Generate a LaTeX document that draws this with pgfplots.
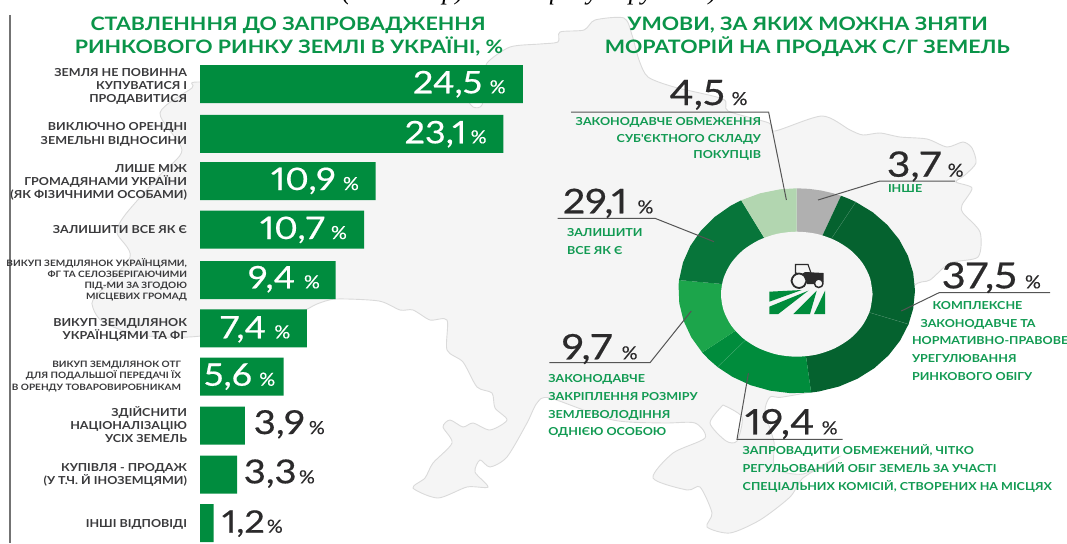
\documentclass[border=0pt]{standalone}
\usepackage{fontspec}
\usepackage{pgfplots}
\pgfplotsset{compat=1.18}
\setmainfont{Lato}
\newfontfamily\numf[FakeStretch=1.16,FakeBold=0.5,Numbers=Proportional]{Lato}
\newfontfamily\pctf[FakeStretch=1.1,FakeBold=0.4]{Lato}
\newfontfamily\capf[FakeStretch=1.14]{Lato}
\newfontfamily\ttlf[FakeStretch=1.16]{Lato}
\newfontfamily\topf{Liberation Serif}
\definecolor{barg}{HTML}{008C3E}
\definecolor{titleg}{HTML}{0A9449}
\definecolor{labg}{HTML}{119A52}
\definecolor{ink}{HTML}{2B2A2B}
\definecolor{catc}{HTML}{3A3A3C}
\definecolor{mapf}{HTML}{F5F5F5}
\definecolor{mapl}{HTML}{DADADA}
\definecolor{dk}{HTML}{05622F}
\definecolor{dk2}{HTML}{07753A}
\definecolor{lt}{HTML}{1CA54B}
\definecolor{md}{HTML}{008C3C}
\definecolor{gy}{HTML}{B0B0B0}
\definecolor{pale}{HTML}{B2D6B0}
\definecolor{lead}{HTML}{555555}
\tikzset{every node/.style={inner sep=0pt,outer sep=0pt}}
% x, y (baseline, px from top), text
\newcommand{\catr}[3]{\node[anchor=base east,text=catc,font=\capf\bfseries\fontsize{11}{11}\selectfont] at (axis cs:#1,#2) {#3};}
\newcommand{\cats}[3]{\node[anchor=base east,text=catc,font=\capf\bfseries\fontsize{8.8}{9}\selectfont] at (axis cs:#1,#2) {#3};}
\newcommand{\labl}[3]{\node[anchor=base west,text=labg,font=\capf\bfseries\fontsize{11}{11}\selectfont] at (axis cs:#1,#2) {#3};}
\newcommand{\labr}[3]{\node[anchor=base east,text=labg,font=\capf\bfseries\fontsize{11}{11}\selectfont] at (axis cs:#1,#2) {#3};}
\newcommand{\ttl}[3]{\node[anchor=base,text=titleg,font=\ttlf\bfseries\fontsize{18.5}{19}\selectfont] at (axis cs:#1,#2) {#3};}
% size, number x, baseline, text, percent x, colour
\newcommand{\val}[6]{\node[anchor=base west,text=#6,font=\numf\fontsize{#1}{#1}\selectfont] at (axis cs:#2,#3) {#4};
 \node[anchor=base west,text=#6,font=\pctf\fontsize{18}{18}\selectfont] at (axis cs:#5,#3) {\%};}
\begin{document}
\begin{tikzpicture}
\useasboundingbox (0pt,0pt) rectangle (1067pt,543pt);
% ---------- background map
\begin{axis}[scale only axis,width=1067pt,height=543pt,at={(0pt,0pt)},anchor=south west,
  xmin=0,xmax=1067,ymin=0,ymax=543,y dir=reverse,hide axis,clip=false]
\addplot[smooth,tension=0.45,fill=mapf,draw=mapl,line width=0.9pt] coordinates {
(300,85)(440,90)(462,95)(473,107)(482,105)(485,80)(487,63)(510,47)(540,44)(558,42)(560,32)(584,30)(595,20)(624,18)(632,35)(639,60)(648,77)(674,87)(723,99)(728,111)(769,123)(775,131)(822,116)(850,130)(863,135)(880,133)(900,137)(927,139)(947,147)(963,142)(972,148)(976,163)(965,175)(956,182)(972,188)(962,205)(963,213)(980,232)(978,257)(950,263)(930,280)(913,287)(880,340)(830,385)(783,397)(770,397)(765,412)(774,442)(775,468)(803,474)(838,457)(830,462)(803,478)(790,497)(760,520)(730,533)(707,527)(712,513)(700,487)(687,490)(653,478)(673,453)(705,438)(695,423)(663,423)(613,420)(550,398)(537,403)(527,423)(507,457)(490,467)(480,460)(475,472)(488,487)(467,487)(438,498)(413,488)(425,478)(433,463)(452,443)(443,427)(450,420)(463,427)(473,423)(490,430)(507,420)(495,408)(492,393)(477,387)(463,362)(447,350)(447,320)(430,320)(413,310)(400,310)(379,301)(336,299)(317,304)(300,312)(240,330)(189,337)(138,335)(103,322)(93,308)(95,297)(130,257)(117,233)(125,215)(160,175)(182,150)(160,113)(192,88)(198,82)(300,85)};
\addplot[smooth,tension=0.45,fill=white,draw=mapl,line width=0.9pt] coordinates {
(723,405)(742,417)(737,441)(726,441)(710,423)(723,405)};
\end{axis}
% ---------- bars: the reference does not draw its bars to scale, so the lengths are those read from the picture (px)
\begin{axis}[scale only axis,width=500pt,height=543pt,at={(200pt,0pt)},anchor=south west,
  xmin=0,xmax=500,ymin=0,ymax=543,y dir=reverse,hide axis,clip=false,xbar,bar width=38pt,bar shift=0pt]
\addplot[fill=barg,draw=none] coordinates {
(322.9,84.2)(303.4,133.8)(175.7,181.2)(164,229.7)(135.7,280)(106.8,328.3)(83.7,376.5)(44.8,425.5)(37,474.5)(13.5,523)};
\end{axis}
% ---------- donut: boundaries; it is not to scale either
\begin{axis}[scale only axis,width=236.6pt,height=205pt,at={(796.7pt,252.2pt)},anchor=center,
  xmin=-1,xmax=1,ymin=-1,ymax=1,hide axis,clip=false]
\addplot[data cs=polar,fill=gy,draw=none] coordinates {(90,0)(90,1)(84,1)(78,1)(72,1)(68,1)(68,0)};
\addplot[data cs=polar,fill=dk,draw=none] coordinates {(68,0)(68,1)(64,1)(60,1)(60,0)};
\addplot[data cs=polar,fill=dk,draw=none] coordinates {(60,0)(60,1)(50,1)(40,1)(30,1)(20,1)(10,1)(0,1)(-10,1)(-19,1)(-19,0)};
\addplot[data cs=polar,fill=dk,draw=none] coordinates {(-19,0)(-19,1)(-29,1)(-39,1)(-49,1)(-59,1)(-69,1)(-79,1)(-83,1)(-83,0)};
\addplot[data cs=polar,fill=md,draw=none] coordinates {(-83,0)(-83,1)(-93,1)(-103,1)(-113,1)(-123,1)(-132,1)(-132,0)};
\addplot[data cs=polar,fill=md,draw=none] coordinates {(-132,0)(-132,1)(-138,1)(-143,1)(-143,0)};
\addplot[data cs=polar,fill=lt,draw=none] coordinates {(-143,0)(-143,1)(-153,1)(-163,1)(-173,1)(-183,1)(-186,1)(-186,0)};
\addplot[data cs=polar,fill=dk2,draw=none] coordinates {(-186,0)(-186,1)(-196,1)(-206,1)(-216,1)(-226,1)(-236,1)(-242,1)(-242,0)};
\addplot[data cs=polar,fill=pale,draw=none] coordinates {(-242,0)(-242,1)(-252,1)(-262,1)(-270,1)(-270,0)};
\addplot[data cs=polar,draw=white!25!dk,line width=0.3pt] coordinates {(60,0.6)(60,1)};
\addplot[data cs=polar,draw=white!25!dk,line width=0.3pt] coordinates {(-19,0.6)(-19,1)};
\addplot[data cs=polar,draw=white!25!md,line width=0.3pt] coordinates {(-132,0.6)(-132,1)};
\end{axis}
% ---------- overlay: hole, icon, leaders, text
\begin{axis}[scale only axis,width=1067pt,height=543pt,at={(0pt,0pt)},anchor=south west,
  xmin=0,xmax=1067,ymin=0,ymax=543,y dir=reverse,hide axis,clip=false]
\addplot[fill=mapf,draw=none,smooth] coordinates {(872.6,294.2)(870,310.4)(862.4,325.5)(850.4,338.4)(834.7,348.3)(816.4,354.6)(796.8,356.7)(777.2,354.6)(758.9,348.3)(743.2,338.4)(731.2,325.5)(723.6,310.4)(721,294.2)(723.6,278)(731.2,262.9)(743.2,250)(758.9,240.1)(777.2,233.8)(796.8,231.7)(816.4,233.8)(834.7,240.1)(850.4,250)(862.4,262.9)(870,278)(872.6,294.2)};
% left rule
\addplot[draw=black!55,line width=2pt] coordinates {(10,15)(10,543)};
% field icon
\addplot[fill=md,draw=none] coordinates {(769.3,291.7)(801.7,290)(769.3,301.7)} --cycle;
\addplot[fill=md,draw=none] coordinates {(769.3,306.7)(808.3,290.7)(778.3,314)(769.3,314)} --cycle;
\addplot[fill=md,draw=none] coordinates {(793.3,314)(816.7,290.7)(810,314)} --cycle;
\addplot[fill=md,draw=none] coordinates {(825,290.7)(825,314)(814,314)} --cycle;
% tractor
\addplot[fill=ink,draw=none] coordinates {(795.5,264)(795.5,274)(802,274)(805,272)(823.5,273)(823.5,282)(815,284)(807,284)(805,276)(795,272)} --cycle;
\addplot[draw=ink,line width=1.1pt] coordinates {(795.5,275)(795.5,264.5)(808,264.5)(811,273)};
\addplot[fill=mapf,draw=ink,line width=1.8pt,smooth] coordinates {(806.5,280.7)(804,286)(799,288)(794,286)(791.5,280.7)(794,275.5)(799,273.5)(804,275.5)(806.5,280.7)};
\addplot[fill=mapf,draw=ink,line width=1.5pt,smooth] coordinates {(823,283.3)(821.7,286.3)(818.7,287.5)(815.7,286.3)(814.4,283.3)(815.7,280.3)(818.7,279)(821.7,280.3)(823,283.3)};
% leaders
\addplot[draw=lead,line width=1pt] coordinates {(571,112)(768.6,112)(786.4,200)};
\addplot[draw=lead,line width=1pt] coordinates {(818,200)(880,181)(955,181)};
\addplot[draw=lead,line width=1pt] coordinates {(557.5,218.3)(655,218.3)(714,241.7)};
\addplot[draw=lead,line width=1pt] coordinates {(901.3,311)(939,292.7)(1050,292.7)};
\addplot[draw=lead,line width=1pt] coordinates {(549.4,362.7)(650,362.7)(691.3,311)};
\addplot[draw=lead,line width=1pt] coordinates {(748.4,373.3)(737,439.3)(842.5,439.3)};
% clipped line of the page above
\node[anchor=base west,text=black,font=\topf\itshape\fontsize{26}{26}\selectfont] at (axis cs:342,0) {(Панельар)};
\node[anchor=base west,text=black,font=\topf\itshape\fontsize{26}{26}\selectfont] at (axis cs:527,0) {з фокус-групами)};
% titles
\ttl{288}{30.7}{СТАВЛЕНННЯ ДО ЗАПРОВАДЖЕННЯ}
\ttl{289}{54}{РИНКОВОГО РИНКУ ЗЕМЛІ В УКРАЇНІ, \%}
\ttl{807.7}{30.7}{УМОВИ, ЗА ЯКИХ МОЖНА ЗНЯТИ}
\ttl{807.3}{54}{МОРАТОРІЙ НА ПРОДАЖ С/Г ЗЕМЕЛЬ}
% category labels
\catr{187}{76}{ЗЕМЛЯ НЕ ПОВИННА}
\catr{187}{89}{КУПУВАТИСЯ І}
\catr{187}{102}{ПРОДАВИТИСЯ}
\catr{187}{130.7}{ВИКЛЮЧНО ОРЕНДНІ}
\catr{187}{144}{ЗЕМЕЛЬНІ ВІДНОСИНИ}
\catr{187}{172}{ЛИШЕ МІЖ}
\catr{187}{185}{ГРОМАДЯНАМИ УКРАЇНИ}
\catr{187}{198}{(ЯК ФІЗИЧНИМИ ОСОБАМИ)}
\catr{187}{233.5}{ЗАЛИШИТИ ВСЕ ЯК Є}
\cats{187}{266.5}{ВИКУП ЗЕМДІЛЯНОК УКРАЇНЦЯМИ,}
\cats{187}{277.3}{ФГ ТА СЕЛОЗБЕРІГАЮЧИМИ}
\cats{187}{288.3}{ПІД-МИ ЗА ЗГОДОЮ}
\cats{187}{299.5}{МІСЦЕВИХ ГРОМАД}
\catr{187}{326}{ВИКУП ЗЕМДІЛЯНОК}
\catr{187}{339}{УКРАЇНЦЯМИ ТА ФГ}
\cats{181}{367.5}{ВИКУП ЗЕМДІЛЯНОК ОТГ}
\cats{181}{378.5}{ДЛЯ ПОДАЛЬШОЇ ПЕРЕДАЧІ ЇХ}
\cats{181}{390}{В ОРЕНДУ ТОВАРОВИРОБНИКАМ}
\catr{187}{416}{ЗДІЙСНИТИ}
\catr{187}{429}{НАЦІОНАЛІЗАЦІЮ}
\catr{187}{442}{УСІХ ЗЕМЕЛЬ}
\catr{187}{471}{КУПІВЛЯ - ПРОДАЖ}
\catr{187}{484}{(У Т.Ч. Й ІНОЗЕМЦЯМИ)}
\catr{187}{527.5}{ІНШІ ВІДПОВІДІ}
% bar values
\val{31}{413}{93.3}{24,5}{489.7}{white}
\val{31}{404.6}{143.3}{23,1}{470.7}{white}
\val{31}{271}{190}{10,9}{343}{white}
\val{31}{260}{239}{10,7}{331}{white}
\val{31}{248}{288.3}{9,4}{304}{white}
\val{31}{220}{338.3}{7,4}{274.4}{white}
\val{31}{204}{385.7}{5,6}{259.3}{white}
\val{33}{253.8}{434}{3,9}{308.9}{ink}
\val{33}{243.8}{483.3}{3,3}{299}{ink}
\val{31}{222}{532.7}{1,2}{266.9}{ink}
% donut values
\val{35}{669.4}{105}{4,5}{731.6}{ink}
\val{35}{887}{176.7}{3,7}{947.7}{ink}
\val{34}{562.9}{213.3}{29,1}{637.5}{ink}
\val{36}{941.7}{288.3}{37,5}{1025}{ink}
\val{35}{561.7}{359.3}{9,7}{621.7}{ink}
\val{35}{745}{434.3}{19,4}{821.7}{ink}
% donut labels
\labr{761}{125}{ЗАКОНОДАВЧЕ ОБМЕЖЕННЯ}
\labr{761}{142}{СУБ'ЄКТНОГО СКЛАДУ}
\labr{761}{158.5}{ПОКУПЦІВ}
\labl{888}{192.5}{ІНШЕ}
\labl{567}{236.5}{ЗАЛИШИТИ}
\labl{567}{254}{ВСЕ ЯК Є}
\labl{932.6}{309}{КОМПЛЕКСНЕ}
\labl{920.5}{327}{ЗАКОНОДАВЧЕ ТА}
\labl{912}{344.5}{НОРМАТИВНО-ПРАВОВЕ}
\labl{912}{362}{УРЕГУЛЮВАННЯ}
\labl{912}{380}{РИНКОВОГО ОБІГУ}
\labl{548.4}{382.5}{ЗАКОНОДАВЧЕ}
\labl{548.4}{400}{ЗАКРІПЛЕННЯ РОЗМІРУ}
\labl{548.4}{418}{ЗЕМЛЕВОЛОДІННЯ}
\labl{548.4}{435.5}{ОДНІЄЮ ОСОБОЮ}
\labl{742.7}{454}{ЗАПРОВАДИТИ ОБМЕЖЕНИЙ, ЧІТКО}
\labl{742.7}{472}{РЕГУЛЬОВАНИЙ ОБІГ ЗЕМЕЛЬ ЗА УЧАСТІ}
\labl{742.7}{490}{СПЕЦІАЛЬНИХ КОМІСІЙ, СТВОРЕНИХ НА МІСЦЯХ}
\end{axis}
\end{tikzpicture}
\end{document}
